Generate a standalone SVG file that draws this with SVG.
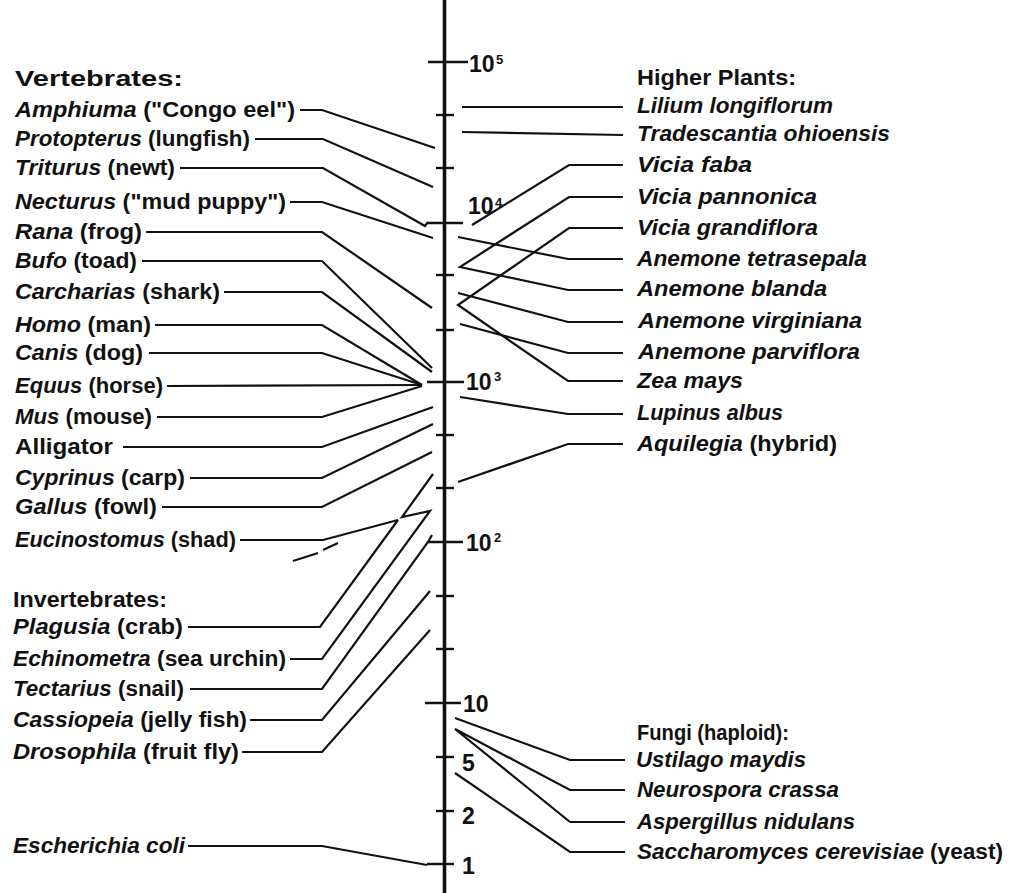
<svg xmlns="http://www.w3.org/2000/svg" width="1010" height="893" viewBox="0 0 1010 893">
<style>
.t{font-family:"Liberation Sans",Arial,sans-serif;font-size:22px;font-weight:bold;fill:#111}
.i{font-style:italic}
.n{font-family:"Liberation Sans",Arial,sans-serif;font-size:23px;font-weight:bold;fill:#111}
.s{font-family:"Liberation Sans",Arial,sans-serif;font-size:13px;font-weight:bold;fill:#111}
.c{fill:none;stroke:#111;stroke-width:2.2;stroke-linejoin:miter;stroke-linecap:butt}
.tk{stroke:#111;stroke-width:2.4}
</style>
<rect width="1010" height="893" fill="#fff"/>
<g id="axis">
<line x1="444.5" y1="0" x2="444.5" y2="893" stroke="#111" stroke-width="3.6"/>
<line class="tk" x1="428" y1="62" x2="468" y2="62"/>
<line class="tk" x1="436" y1="115" x2="454" y2="115"/>
<line class="tk" x1="436" y1="168" x2="454" y2="168"/>
<line class="tk" x1="428" y1="223" x2="463" y2="223"/>
<line class="tk" x1="436" y1="275" x2="454" y2="275"/>
<line class="tk" x1="436" y1="330" x2="454" y2="330"/>
<line class="tk" x1="427" y1="382" x2="464" y2="382"/>
<line class="tk" x1="436" y1="435" x2="454" y2="435"/>
<line class="tk" x1="436" y1="488" x2="454" y2="488"/>
<line class="tk" x1="428" y1="542" x2="463" y2="542"/>
<line class="tk" x1="436" y1="596" x2="454" y2="596"/>
<line class="tk" x1="436" y1="649" x2="454" y2="649"/>
<line class="tk" x1="425" y1="703" x2="461" y2="703"/>
<line class="tk" x1="436" y1="757" x2="454" y2="757"/>
<line class="tk" x1="436" y1="811" x2="454" y2="811"/>
<line class="tk" x1="427" y1="864" x2="454" y2="864"/>
<text class="n" x="469" y="72">10</text><text class="s" x="496" y="64">5</text>
<text class="n" x="468" y="214">10</text><text class="s" x="495" y="207">4</text>
<text class="n" x="466" y="390">10</text><text class="s" x="494" y="381">3</text>
<text class="n" x="466" y="551">10</text><text class="s" x="494" y="542">2</text>
<text class="n" x="463" y="712">10</text>
<text class="n" x="462" y="771">5</text>
<text class="n" x="462" y="824">2</text>
<text class="n" x="462" y="874">1</text>
</g>
<g id="connectors">
<polyline class="c" points="300,110 322,110 435,148"/>
<polyline class="c" points="255,139 323,139 433,187"/>
<polyline class="c" points="180,168 323,168 425,226 428,222"/>
<polyline class="c" points="290,202 322,202 433,238"/>
<polyline class="c" points="146,232 322,232 432,308"/>
<polyline class="c" points="142,261 322,261 432,368"/>
<polyline class="c" points="224,292 322,292 432,372"/>
<polyline class="c" points="155,325 322,325 422,385"/>
<polyline class="c" points="149,353 322,353 422,385"/>
<polyline class="c" points="167,386 422,385"/>
<polyline class="c" points="157,417 322,417 422,386"/>
<polyline class="c" points="123,447 322,447 433,407"/>
<polyline class="c" points="190,478 322,478 433,424"/>
<polyline class="c" points="162,507 322,507 432,452"/>
<polyline class="c" points="240,540 323,540 398,520"/>
<line class="c" x1="293" y1="561" x2="318" y2="553"/>
<line class="c" x1="323" y1="550" x2="338" y2="543"/>
<polyline class="c" points="188,627 320,627 398,520"/>
<polyline class="c" points="290,659 322,659 430,511 402,517 433,474"/>
<polyline class="c" points="190,689 322,689 428,542 432,535"/>
<polyline class="c" points="250,720 322,720 430,591"/>
<polyline class="c" points="242,752 322,752 430,630"/>
<polyline class="c" points="188,846 322,846 427,865"/>
<polyline class="c" points="462,107 623,107"/>
<polyline class="c" points="462,132 623,135"/>
<polyline class="c" points="472,225 569,165 623,165"/>
<polyline class="c" points="623,197 569,197 460,267 568,290 623,290"/>
<polyline class="c" points="623,228 569,228 458,305 568,381 623,381"/>
<polyline class="c" points="458,237 568,259 623,259"/>
<polyline class="c" points="458,293 568,322 623,322"/>
<polyline class="c" points="460,324 568,353 623,353"/>
<polyline class="c" points="460,397 568,414 623,414"/>
<polyline class="c" points="458,482 568,444 623,444"/>
<polyline class="c" points="455,718 570,760 625,760"/>
<polyline class="c" points="570,822 455,729 570,790 625,790"/>
<polyline class="c" points="570,822 625,822"/>
<polyline class="c" points="455,773 570,852 625,852"/>
</g>
<g id="vertebrates">
<text class="t" x="15" y="86" textLength="168" lengthAdjust="spacingAndGlyphs">Vertebrates:</text>
</g>
<g id="amphiuma"><text class="t" x="15" y="117" textLength="280" lengthAdjust="spacingAndGlyphs"><tspan class="i">Amphiuma</tspan> ("Congo eel")</text></g>
<g id="protopterus"><text class="t" x="15" y="146" textLength="235" lengthAdjust="spacingAndGlyphs"><tspan class="i">Protopterus</tspan> (lungfish)</text></g>
<g id="triturus"><text class="t" x="15" y="175" textLength="160" lengthAdjust="spacingAndGlyphs"><tspan class="i">Triturus</tspan> (newt)</text></g>
<g id="necturus"><text class="t" x="15" y="209" textLength="271" lengthAdjust="spacingAndGlyphs"><tspan class="i">Necturus</tspan> ("mud puppy")</text></g>
<g id="rana"><text class="t" x="15" y="239" textLength="127" lengthAdjust="spacingAndGlyphs"><tspan class="i">Rana</tspan> (frog)</text></g>
<g id="bufo"><text class="t" x="15" y="268" textLength="122" lengthAdjust="spacingAndGlyphs"><tspan class="i">Bufo</tspan> (toad)</text></g>
<g id="carcharias"><text class="t" x="15" y="299" textLength="205" lengthAdjust="spacingAndGlyphs"><tspan class="i">Carcharias</tspan> (shark)</text></g>
<g id="homo"><text class="t" x="15" y="332" textLength="136" lengthAdjust="spacingAndGlyphs"><tspan class="i">Homo</tspan> (man)</text></g>
<g id="canis"><text class="t" x="15" y="360" textLength="128" lengthAdjust="spacingAndGlyphs"><tspan class="i">Canis</tspan> (dog)</text></g>
<g id="equus"><text class="t" x="15" y="393" textLength="148" lengthAdjust="spacingAndGlyphs"><tspan class="i">Equus</tspan> (horse)</text></g>
<g id="mus"><text class="t" x="15" y="424" textLength="137" lengthAdjust="spacingAndGlyphs"><tspan class="i">Mus</tspan> (mouse)</text></g>
<g id="alligator"><text class="t" x="15" y="454" textLength="98" lengthAdjust="spacingAndGlyphs">Alligator</text></g>
<g id="cyprinus"><text class="t" x="15" y="485" textLength="170" lengthAdjust="spacingAndGlyphs"><tspan class="i">Cyprinus</tspan> (carp)</text></g>
<g id="gallus"><text class="t" x="15" y="514" textLength="142" lengthAdjust="spacingAndGlyphs"><tspan class="i">Gallus</tspan> (fowl)</text></g>
<g id="eucinostomus"><text class="t" x="15" y="547" textLength="221" lengthAdjust="spacingAndGlyphs"><tspan class="i">Eucinostomus</tspan> (shad)</text></g>
<g id="invertebrates"><text class="t" x="13" y="607" textLength="154" lengthAdjust="spacingAndGlyphs">Invertebrates:</text></g>
<g id="plagusia"><text class="t" x="13" y="634" textLength="170" lengthAdjust="spacingAndGlyphs"><tspan class="i">Plagusia</tspan> (crab)</text></g>
<g id="echinometra"><text class="t" x="13" y="666" textLength="273" lengthAdjust="spacingAndGlyphs"><tspan class="i">Echinometra</tspan> (sea urchin)</text></g>
<g id="tectarius"><text class="t" x="13" y="696" textLength="171" lengthAdjust="spacingAndGlyphs"><tspan class="i">Tectarius</tspan> (snail)</text></g>
<g id="cassiopeia"><text class="t" x="13" y="727" textLength="234" lengthAdjust="spacingAndGlyphs"><tspan class="i">Cassiopeia</tspan> (jelly fish)</text></g>
<g id="drosophila"><text class="t" x="13" y="759" textLength="226" lengthAdjust="spacingAndGlyphs"><tspan class="i">Drosophila</tspan> (fruit fly)</text></g>
<g id="ecoli"><text class="t i" x="13" y="853" textLength="172" lengthAdjust="spacingAndGlyphs">Escherichia coli</text></g>
<g id="higher-plants"><text class="t" x="637" y="85" textLength="159" lengthAdjust="spacingAndGlyphs">Higher Plants:</text></g>
<g id="lilium"><text class="t i" x="637" y="113" textLength="196" lengthAdjust="spacingAndGlyphs">Lilium longiflorum</text></g>
<g id="tradescantia"><text class="t i" x="637" y="141" textLength="253" lengthAdjust="spacingAndGlyphs">Tradescantia ohioensis</text></g>
<g id="vicia-faba"><text class="t i" x="637" y="172" textLength="115" lengthAdjust="spacingAndGlyphs">Vicia faba</text></g>
<g id="vicia-pannonica"><text class="t i" x="637" y="204" textLength="180" lengthAdjust="spacingAndGlyphs">Vicia pannonica</text></g>
<g id="vicia-grandiflora"><text class="t i" x="637" y="235" textLength="181" lengthAdjust="spacingAndGlyphs">Vicia grandiflora</text></g>
<g id="anemone-tetrasepala"><text class="t i" x="637" y="266" textLength="230" lengthAdjust="spacingAndGlyphs">Anemone tetrasepala</text></g>
<g id="anemone-blanda"><text class="t i" x="637" y="296" textLength="190" lengthAdjust="spacingAndGlyphs">Anemone blanda</text></g>
<g id="anemone-virginiana"><text class="t i" x="638" y="328" textLength="224" lengthAdjust="spacingAndGlyphs">Anemone virginiana</text></g>
<g id="anemone-parviflora"><text class="t i" x="638" y="359" textLength="222" lengthAdjust="spacingAndGlyphs">Anemone parviflora</text></g>
<g id="zea-mays"><text class="t i" x="637" y="388" textLength="106" lengthAdjust="spacingAndGlyphs">Zea mays</text></g>
<g id="lupinus"><text class="t i" x="637" y="420" textLength="146" lengthAdjust="spacingAndGlyphs">Lupinus albus</text></g>
<g id="aquilegia"><text class="t" x="637" y="451" textLength="200" lengthAdjust="spacingAndGlyphs"><tspan class="i">Aquilegia</tspan> (hybrid)</text></g>
<g id="fungi"><text class="t" x="637" y="740" textLength="152" lengthAdjust="spacingAndGlyphs">Fungi (haploid):</text></g>
<g id="ustilago"><text class="t i" x="636" y="767" textLength="170" lengthAdjust="spacingAndGlyphs">Ustilago maydis</text></g>
<g id="neurospora"><text class="t i" x="637" y="797" textLength="202" lengthAdjust="spacingAndGlyphs">Neurospora crassa</text></g>
<g id="aspergillus"><text class="t i" x="637" y="829" textLength="218" lengthAdjust="spacingAndGlyphs">Aspergillus nidulans</text></g>
<g id="saccharomyces"><text class="t i" x="637" y="859" textLength="287" lengthAdjust="spacingAndGlyphs">Saccharomyces cerevisiae</text><text class="t" x="930" y="859" textLength="73" lengthAdjust="spacingAndGlyphs">(yeast)</text></g>
</svg>
